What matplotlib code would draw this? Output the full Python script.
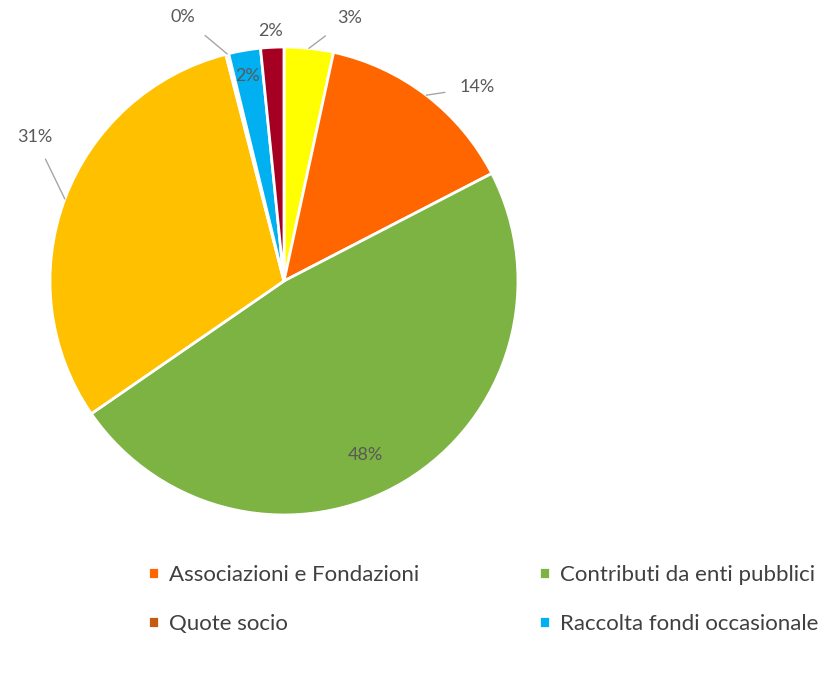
import numpy as np
import matplotlib.pyplot as plt

plt.rcParams['font.family'] = ['Lato', 'DejaVu Sans']

# slices, clockwise from 12 o'clock
categories = ['Donazioni private', 'Associazioni e Fondazioni', 'Contributi da enti pubblici',
              'Altre entrate', 'Quote socio', 'Raccolta fondi occasionale', '5 per mille']
values = [3.4, 14.0, 48.0, 30.6, 0.2, 2.2, 1.6]
labels = ['3%', '14%', '48%', '31%', '0%', '2%', '2%']
colors = ['#FFFF00', '#FF6600', '#7CB342', '#FFC000', '#C55A11', '#00B0F0', '#A50021']
# legend (two columns, row by row)
legend_items = ['Associazioni e Fondazioni', 'Contributi da enti pubblici',
                'Quote socio', 'Raccolta fondi occasionale']

# label placement: (angle from top clockwise in deg, radius, leader line?)
label_pos = [(14, 1.16, True), (45, 1.17, True), (155, 0.82, False), (300, 1.23, True),
             (339, 1.21, True), (350, 0.89, False), (357, 1.07, False)]

fig = plt.figure(figsize=(8.3, 6.85), dpi=100)
ax = fig.add_axes([0.0602, 0.2482, 0.5639, 0.6832])
wedges, _ = ax.pie(values, colors=colors, startangle=90, counterclock=False, radius=1,
                   wedgeprops=dict(edgecolor='white', linewidth=2))
ax.set_xlim(-1, 1)
ax.set_ylim(-1, 1)
ax.set_aspect('equal')
ax.axis('off')

cum = np.cumsum([0] + values[:-1])
for i, (lab, (ang, r, lead)) in enumerate(zip(labels, label_pos)):
    mid = np.deg2rad((cum[i] + values[i] / 2) / sum(values) * 360)
    t = np.deg2rad(ang)
    tx, ty = r * np.sin(t), r * np.cos(t)
    if lead:
        ax.annotate(lab, xy=(np.sin(mid), np.cos(mid)), xytext=(tx, ty),
                    ha='center', va='center', fontsize=13, color='#595959',
                    arrowprops=dict(arrowstyle='-', color='#A6A6A6', lw=1,
                                    shrinkA=9, shrinkB=0), annotation_clip=False)
    else:
        ax.text(tx, ty, lab, ha='center', va='center', fontsize=13, color='#595959')

# matplotlib fills legend columns first, so reorder to get row-major order
order = [0, 2, 1, 3]
names = [legend_items[k] for k in order]
handles = [wedges[categories.index(n)] for n in names]
fig.legend(handles, names, loc='center left', bbox_to_anchor=(0.178, 0.125),
           ncol=2, frameon=False, fontsize=16, handlelength=0.5, handleheight=0.5,
           handletextpad=0.45, columnspacing=5.4, labelspacing=1.3, labelcolor='#404040',
           borderpad=0, borderaxespad=0)

fig.savefig('out.png', dpi=100)
